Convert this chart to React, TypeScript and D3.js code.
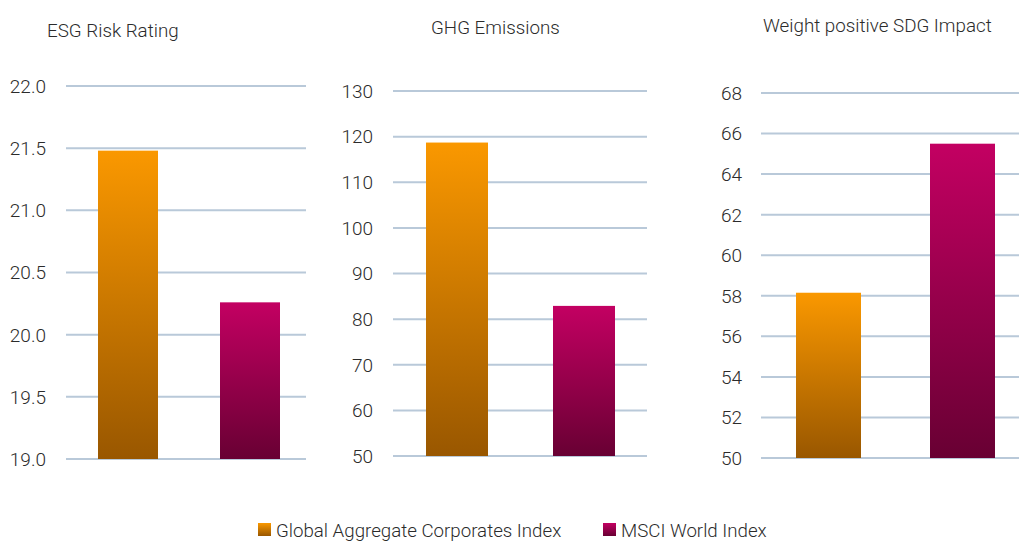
import React from "react";
import * as d3 from "d3";

const series = ["Global Aggregate Corporates Index", "MSCI World Index"];
const panelTitles = ["ESG Risk Rating", "GHG Emissions", "Weight positive SDG Impact"];
const esgValues = [21.48, 20.26];
const ghgValues = [118.7, 82.9];
const sdgValues = [58.15, 65.5];
const esgTicks = [19.0, 19.5, 20.0, 20.5, 21.0, 21.5, 22.0];
const ghgTicks = [50, 60, 70, 80, 90, 100, 110, 120, 130];
const sdgTicks = [50, 52, 54, 56, 58, 60, 62, 64, 66, 68];

const FONT = "Roboto, 'Noto Sans', sans-serif";
const gridColor = "#b9c9d9";
const textColor = "#2b2b2b";

type Panel = {
  title: string;
  values: number[];
  ticks: number[];
  fmt: (v: number) => string;
  gridX0: number;
  gridX1: number;
  yTop: number;
  yBottom: number;
  labelRight: number;
  barX: [number, number];
  barW: number;
  titleX: number;
  titleY: number;
};

const panels: Panel[] = [
  {
    title: panelTitles[0], values: esgValues, ticks: esgTicks, fmt: d3.format(".1f"),
    gridX0: 66, gridX1: 306, yTop: 86, yBottom: 459, labelRight: 46,
    barX: [98, 220], barW: 60, titleX: 47, titleY: 37,
  },
  {
    title: panelTitles[1], values: ghgValues, ticks: ghgTicks, fmt: d3.format("d"),
    gridX0: 393, gridX1: 647, yTop: 91, yBottom: 456, labelRight: 373,
    barX: [426, 553], barW: 62, titleX: 431, titleY: 34,
  },
  {
    title: panelTitles[2], values: sdgValues, ticks: sdgTicks, fmt: d3.format("d"),
    gridX0: 761, gridX1: 1019, yTop: 93, yBottom: 458, labelRight: 742,
    barX: [796, 930], barW: 65, titleX: 763, titleY: 32,
  },
];

const gradIds = ["gradOrange", "gradMagenta"];
const legendX = [258, 603];

export default function App() {
  return (
    <svg
      width={1019}
      height={542}
      style={{ position: "absolute", left: 0, top: 0, background: "#fff" }}
      fontFamily={FONT}
    >
      <defs>
        <linearGradient id="gradOrange" x1="0" y1="0" x2="0" y2="1">
          <stop offset="0" stopColor="#fa9800" />
          <stop offset="1" stopColor="#995700" />
        </linearGradient>
        <linearGradient id="gradMagenta" x1="0" y1="0" x2="0" y2="1">
          <stop offset="0" stopColor="#c30062" />
          <stop offset="1" stopColor="#680033" />
        </linearGradient>
      </defs>
      {panels.map((p, pi) => {
        const y = d3
          .scaleLinear()
          .domain([p.ticks[0], p.ticks[p.ticks.length - 1]])
          .range([p.yBottom, p.yTop]);
        return (
          <g key={pi}>
            <text x={p.titleX} y={p.titleY} fontSize={18.8} fontWeight={300} fill={textColor}>
              {p.title}
            </text>
            {p.ticks.map((t) => (
              <g key={t}>
                <line x1={p.gridX0} x2={p.gridX1} y1={y(t)} y2={y(t)} stroke={gridColor} strokeWidth={2} />
                <text
                  x={p.labelRight}
                  y={y(t)}
                  dy="0.36em"
                  textAnchor="end"
                  fontSize={19}
                  fontWeight={300}
                  fill={textColor}
                >
                  {p.fmt(t)}
                </text>
              </g>
            ))}
            {p.values.map((v, i) => (
              <rect
                key={i}
                x={p.barX[i]}
                width={p.barW}
                y={y(v)}
                height={y(p.ticks[0]) - y(v)}
                fill={`url(#${gradIds[i]})`}
              />
            ))}
          </g>
        );
      })}
      <g>
        {series.map((s, i) => (
          <g key={s}>
            <rect x={legendX[i]} y={523} width={13} height={13} fill={`url(#${gradIds[i]})`} />
            <text x={legendX[i] + 18} y={530} dy="0.36em" fontSize={18.7} fontWeight={300} fill={textColor}>
              {s}
            </text>
          </g>
        ))}
      </g>
    </svg>
  );
}
